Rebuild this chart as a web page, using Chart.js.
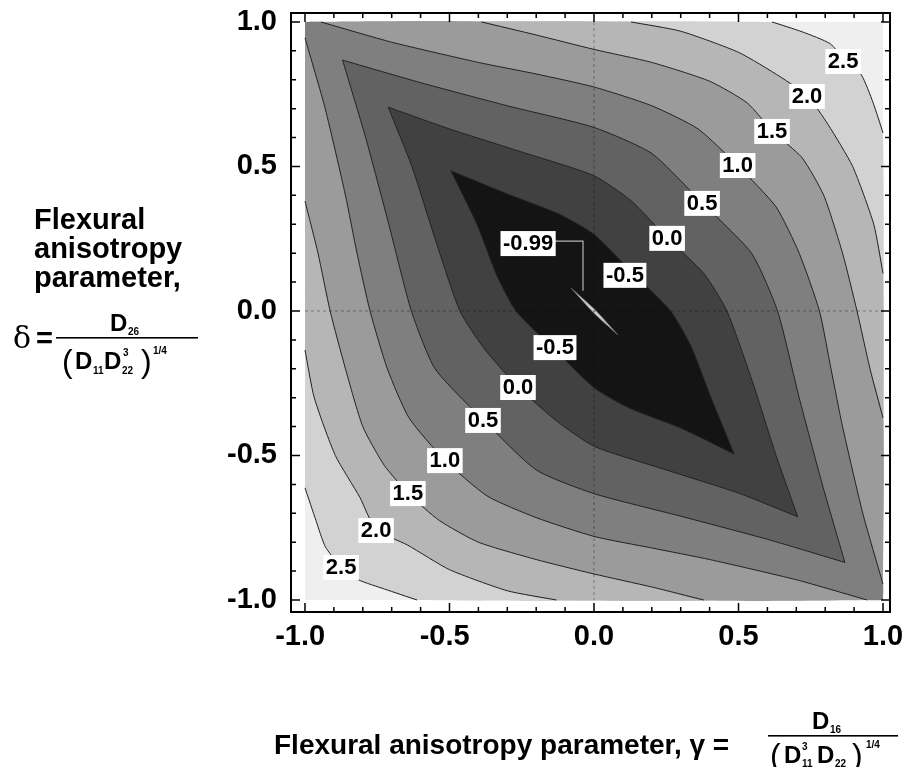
<!DOCTYPE html>
<html>
<head>
<meta charset="utf-8">
<title>Flexural anisotropy contour map</title>
<script src="https://cdn.jsdelivr.net/npm/chart.js@4.4.0/dist/chart.umd.min.js"></script>
<style>
  html, body { margin: 0; padding: 0; background: #fff; }
</style>
</head>
<body>
<canvas id="chart" width="912" height="767"></canvas>
<script>
// contour map, grey filled bands
const xTickVals = [-1.0, -0.9, -0.8, -0.7, -0.6, -0.5, -0.4, -0.3, -0.2, -0.1, 0.0, 0.1, 0.2, 0.3, 0.4, 0.5, 0.6, 0.7, 0.8, 0.9, 1.0];
const yTickVals = [-1.0, -0.9, -0.8, -0.7, -0.6, -0.5, -0.4, -0.3, -0.2, -0.1, 0.0, 0.1, 0.2, 0.3, 0.4, 0.5, 0.6, 0.7, 0.8, 0.9, 1.0];
const tickLabels = ['-1.0', '-0.5', '0.0', '0.5', '1.0'];

// domain corners (gamma, delta)
const domain = [[-1.0, 1.0], [1.0, 1.0], [1.0, -1.0], [-1.0, -1.0]];

// contour lines: upper-right branch and lower-left branch, [gamma, delta]
const c25Upper = [[0.616, 1.0], [0.72, 0.966], [0.817, 0.925], [0.868, 0.868], [0.925, 0.817], [0.966, 0.72], [1.0, 0.616]];
const c25Lower = [[-1.0, -0.612], [-0.962, -0.725], [-0.93, -0.815], [-0.88, -0.88], [-0.815, -0.93], [-0.725, -0.962], [-0.612, -1.0]];

const c20Upper = [[0.128, 1.0], [0.3, 0.968], [0.5, 0.895], [0.645, 0.81], [0.74, 0.742], [0.81, 0.645], [0.895, 0.5], [0.968, 0.3], [1.0, 0.13]];
const c20Lower = [[-1.0, -0.135], [-0.968, -0.3], [-0.895, -0.5], [-0.81, -0.645], [-0.755, -0.755], [-0.645, -0.81], [-0.5, -0.895], [-0.3, -0.968], [-0.13, -1.0]];

const c15Upper = [[-0.39, 1.0], [-0.2, 0.955], [0.0, 0.905], [0.2, 0.86], [0.4, 0.795], [0.53, 0.72], [0.62, 0.62], [0.72, 0.53], [0.795, 0.4], [0.86, 0.2], [0.91, 0.0], [0.955, -0.2], [1.0, -0.37]];
const c15Lower = [[-1.0, 0.38], [-0.955, 0.2], [-0.913, 0.0], [-0.86, -0.2], [-0.8, -0.4], [-0.725, -0.535], [-0.637, -0.637], [-0.535, -0.725], [-0.4, -0.8], [-0.2, -0.86], [0.0, -0.91], [0.2, -0.955], [0.38, -1.0]];

const c10Upper = [[-0.945, 1.0], [-0.7, 0.93], [-0.4, 0.86], [-0.2, 0.82], [0.0, 0.775], [0.2, 0.71], [0.36, 0.63], [0.5, 0.5], [0.63, 0.36], [0.71, 0.2], [0.78, 0.0], [0.82, -0.2], [0.86, -0.4], [0.93, -0.7], [1.0, -0.945]];
const c10Lower = [[-1.0, 0.945], [-0.93, 0.7], [-0.86, 0.4], [-0.82, 0.2], [-0.775, 0.0], [-0.715, -0.2], [-0.64, -0.37], [-0.516, -0.516], [-0.37, -0.64], [-0.2, -0.715], [0.0, -0.78], [0.2, -0.82], [0.4, -0.86], [0.7, -0.93], [0.945, -1.0]];

const c05Upper = [[-0.87, 0.868], [-0.6, 0.79], [-0.3, 0.71], [0.0, 0.635], [0.2, 0.545], [0.374, 0.374], [0.545, 0.2], [0.635, 0.0], [0.71, -0.3], [0.79, -0.6], [0.868, -0.87]];
const c05Lower = [[-0.87, 0.868], [-0.79, 0.6], [-0.71, 0.3], [-0.632, 0.0], [-0.55, -0.2], [-0.38, -0.38], [-0.2, -0.55], [0.0, -0.632], [0.3, -0.71], [0.6, -0.79], [0.868, -0.87]];

const c00Upper = [[-0.712, 0.705], [-0.5, 0.63], [-0.25, 0.55], [0.0, 0.468], [0.13, 0.38], [0.253, 0.253], [0.38, 0.13], [0.46, 0.0], [0.55, -0.25], [0.63, -0.5], [0.705, -0.712]];
const c00Lower = [[-0.712, 0.705], [-0.63, 0.5], [-0.55, 0.25], [-0.464, 0.0], [-0.38, -0.13], [-0.263, -0.263], [-0.13, -0.38], [0.0, -0.468], [0.25, -0.55], [0.5, -0.63], [0.705, -0.712]];

const cm05Upper = [[-0.495, 0.485], [-0.3, 0.405], [-0.12, 0.335], [0.0, 0.265], [0.133, 0.133], [0.265, 0.0], [0.335, -0.12], [0.405, -0.3], [0.485, -0.495]];
const cm05Lower = [[-0.495, 0.485], [-0.405, 0.3], [-0.335, 0.12], [-0.27, 0.0], [-0.135, -0.135], [0.0, -0.265], [0.12, -0.335], [0.3, -0.405], [0.485, -0.495]];

const cm099Upper = [[-0.08, 0.08], [0.004, 0.004], [0.083, -0.083]];
const cm099Lower = [[-0.08, 0.08], [-0.004, -0.004], [0.083, -0.083]];

// leader from the -0.99 label to the innermost contour
const leaderX = [-0.135, -0.038, -0.038];
const leaderY = [0.242, 0.242, 0.07];

// in-plot contour labels
const labelText = ['2.5', '2.0', '1.5', '1.0', '0.5', '0.0', '-0.5', '-0.5', '0.0', '0.5', '1.0', '1.5', '2.0', '2.5', '-0.99'];
const labelX = [0.862, 0.737, 0.616, 0.497, 0.374, 0.253, 0.107, -0.135, -0.263, -0.384, -0.516, -0.644, -0.754, -0.875, -0.228];
const labelY = [0.865, 0.744, 0.623, 0.505, 0.374, 0.253, 0.125, -0.125, -0.263, -0.377, -0.516, -0.630, -0.758, -0.886, 0.235];

// grey for each band, lightest (> 2.5) to darkest, then the light sliver inside -0.99
const bandColors = ['#efefef', '#d2d2d2', '#b6b6b6', '#9b9b9b', '#7f7f7f', '#626262', '#414141', '#141414', '#cccccc'];
const lineColor = '#222222';
const FONT = '"Liberation Sans", Arial, Helvetica, sans-serif';
const SMOOTH = 0.2;

function toPts(arr) {
  return arr.map(p => ({ x: p[0], y: p[1] }));
}

// area below a level: open curves are closed with the two domain corners they cut off
// (corners doubled so the smoothing keeps the domain edges straight)
function region(upper, lower, corners) {
  const rev = lower.slice().reverse();
  if (corners) return toPts([domain[0], domain[0], ...upper, domain[2], domain[2], ...rev]);
  return toPts([...upper, ...rev]);
}

const regions = [
  toPts(domain),
  region(c25Upper, c25Lower, true),
  region(c20Upper, c20Lower, true),
  region(c15Upper, c15Lower, true),
  region(c10Upper, c10Lower, true),
  region(c05Upper, c05Lower, false),
  region(c00Upper, c00Lower, false),
  region(cm05Upper, cm05Lower, false),
  region(cm099Upper, cm099Lower, false)
];

const branches = [c25Upper, c25Lower, c20Upper, c20Lower, c15Upper, c15Lower, c10Upper, c10Lower,
  c05Upper, c05Lower, c00Upper, c00Lower, cm05Upper, cm05Lower];

const datasets = [];
regions.forEach((pts, i) => {
  datasets.push({
    data: pts, showLine: true, fill: 'shape', backgroundColor: bandColors[i],
    borderWidth: 0, borderColor: 'rgba(0,0,0,0)', pointRadius: 0, tension: i === 0 ? 0 : SMOOTH
  });
});
branches.forEach(b => {
  datasets.push({ data: toPts(b), showLine: true, fill: false, borderColor: lineColor, borderWidth: 1, pointRadius: 0, tension: SMOOTH });
});
[cm099Upper, cm099Lower].forEach(b => {
  datasets.push({ data: toPts(b), showLine: true, fill: false, borderColor: '#666', borderWidth: 0.8, pointRadius: 0, tension: SMOOTH });
});
datasets.push({
  data: leaderX.map((v, i) => ({ x: v, y: leaderY[i] })),
  showLine: true, fill: false, borderColor: '#b4b4b4', borderWidth: 1.2, pointRadius: 0
});
// first pushed is drawn first (bottom)
datasets.forEach((d, i) => { d.order = datasets.length - i; });

function txt(ctx, s, x, y, font, align) {
  ctx.font = font;
  ctx.textAlign = align || 'left';
  ctx.fillText(s, x, y);
}

const decor = {
  id: 'decor',
  afterDatasetsDraw(chart) {
    const { ctx, scales: { x, y } } = chart;
    ctx.save();
    // faint dotted zero lines
    ctx.strokeStyle = 'rgba(0,0,0,0.35)';
    ctx.lineWidth = 1;
    ctx.setLineDash([3, 3]);
    ctx.beginPath();
    ctx.moveTo(x.getPixelForValue(0), y.getPixelForValue(1));
    ctx.lineTo(x.getPixelForValue(0), y.getPixelForValue(-1));
    ctx.moveTo(x.getPixelForValue(-1), y.getPixelForValue(0));
    ctx.lineTo(x.getPixelForValue(1), y.getPixelForValue(0));
    ctx.stroke();
    ctx.setLineDash([]);

    // contour labels in white boxes
    ctx.font = 'bold 22px ' + FONT;
    ctx.textAlign = 'center';
    ctx.textBaseline = 'middle';
    labelText.forEach((t, i) => {
      const px = x.getPixelForValue(labelX[i]);
      const py = y.getPixelForValue(labelY[i]);
      const w = ctx.measureText(t).width + 5;
      ctx.fillStyle = '#fff';
      ctx.fillRect(px - w / 2, py - 12, w, 25);
      ctx.fillStyle = '#000';
      ctx.fillText(t, px, py + 1);
    });
    ctx.restore();
  },
  afterDraw(chart) {
    const { ctx, chartArea: a, scales: { x, y } } = chart;
    ctx.save();
    // frame
    ctx.strokeStyle = '#000';
    ctx.lineWidth = 2;
    ctx.strokeRect(a.left, a.top, a.right - a.left, a.bottom - a.top);
    // inward ticks on all four sides
    ctx.lineWidth = 1.5;
    ctx.beginPath();
    xTickVals.forEach(v => {
      const px = x.getPixelForValue(v);
      const len = tickLabels.includes(v.toFixed(1)) ? 9 : 5;
      ctx.moveTo(px, a.bottom); ctx.lineTo(px, a.bottom - len);
      ctx.moveTo(px, a.top); ctx.lineTo(px, a.top + len);
    });
    yTickVals.forEach(v => {
      const py = y.getPixelForValue(v);
      const len = tickLabels.includes(v.toFixed(1)) ? 9 : 5;
      ctx.moveTo(a.left, py); ctx.lineTo(a.left + len, py);
      ctx.moveTo(a.right, py); ctx.lineTo(a.right - len, py);
    });
    ctx.stroke();

    ctx.fillStyle = '#000';
    ctx.textBaseline = 'alphabetic';
    const big = 'bold 29px ' + FONT;
    const mid = 'bold 24px ' + FONT;
    const small = 'bold 10px ' + FONT;
    const paren = '32px ' + FONT;

    // left axis title
    txt(ctx, 'Flexural', 34, 229, big);
    txt(ctx, 'anisotropy', 34, 258, big);
    txt(ctx, 'parameter,', 34, 287, big);
    txt(ctx, 'δ', 13, 348, '30px "DejaVu Serif", "Liberation Serif", serif');
    txt(ctx, '=', 36, 348, big);
    ctx.fillRect(56, 337, 142, 1.6);
    txt(ctx, 'D', 110, 331, mid);
    txt(ctx, '26', 128, 335, small);
    txt(ctx, '(', 62, 372, paren);
    txt(ctx, 'D', 75, 369, mid);
    txt(ctx, '11', 93, 374, small);
    txt(ctx, 'D', 104, 369, mid);
    txt(ctx, '3', 123, 356, small);
    txt(ctx, '22', 122, 374, small);
    txt(ctx, ')', 141, 372, paren);
    txt(ctx, '1/4', 153, 354, small);

    // bottom axis title
    txt(ctx, 'Flexural anisotropy parameter, γ =', 274, 754, 'bold 28px ' + FONT);
    ctx.fillRect(768, 735, 130, 1.6);
    txt(ctx, 'D', 812, 729, mid);
    txt(ctx, '16', 830, 733, small);
    txt(ctx, '(', 770, 766, paren);
    txt(ctx, 'D', 784, 763, mid);
    txt(ctx, '3', 802, 750, small);
    txt(ctx, '11', 802, 767, small);
    txt(ctx, 'D', 817, 763, mid);
    txt(ctx, '22', 835, 767, small);
    txt(ctx, ')', 852, 766, paren);
    txt(ctx, '1/4', 866, 748, small);
    ctx.restore();
  }
};

function tickCb(v) {
  const s = Number(v).toFixed(1);
  return tickLabels.includes(s) ? s : '';
}

// x labels: digits centred on the tick, minus sign hanging to the left
function xTickCb(v) {
  const s = tickCb(v);
  return s.startsWith('-') ? s + '\u2004' : s;
}

new Chart(document.getElementById('chart').getContext('2d'), {
  type: 'scatter',
  data: { datasets },
  options: {
    responsive: false,
    animation: false,
    layout: { padding: { left: 0, right: 22, top: 13, bottom: 0 } },
    plugins: { legend: { display: false }, tooltip: { enabled: false } },
    elements: { point: { radius: 0 } },
    scales: {
      x: {
        type: 'linear', min: -1.0484, max: 1.0242,
        grid: { display: false, drawTicks: false },
        border: { display: false },
        afterBuildTicks: s => { s.ticks = xTickVals.map(v => ({ value: v })); },
        afterFit: s => { s.height = 155; s.paddingLeft = 0; s.paddingRight = 0; },
        ticks: { autoSkip: false, maxRotation: 0, padding: 8, color: '#000', font: { family: FONT, size: 29, weight: 'bold' }, callback: xTickCb }
      },
      y: {
        type: 'linear', min: -1.0415, max: 1.031,
        grid: { display: false, drawTicks: false },
        border: { display: false },
        afterBuildTicks: s => { s.ticks = yTickVals.map(v => ({ value: v })); },
        afterFit: s => { s.width = 291; s.paddingTop = 0; s.paddingBottom = 0; },
        ticks: { autoSkip: false, padding: 14, color: '#000', font: { family: FONT, size: 29, weight: 'bold' }, callback: tickCb }
      }
    }
  },
  plugins: [decor]
});
</script>
</body>
</html>
